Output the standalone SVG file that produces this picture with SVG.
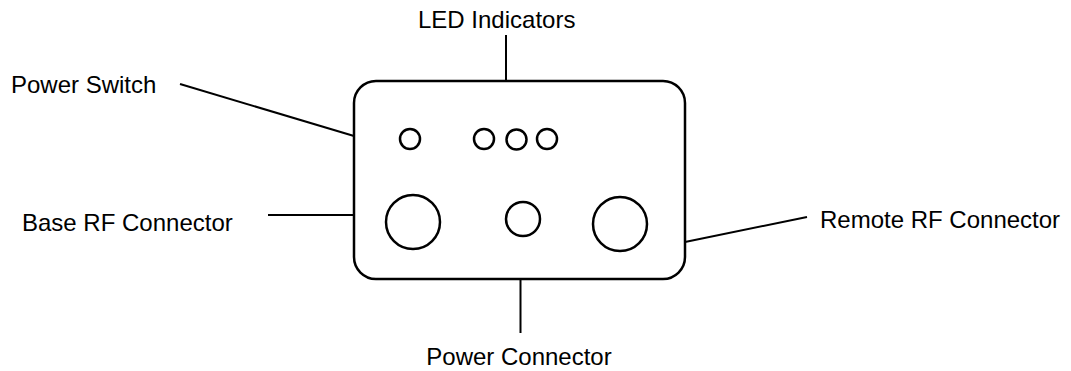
<svg xmlns="http://www.w3.org/2000/svg" width="1071" height="371" viewBox="0 0 1071 371">
<style>
.lbl{font-family:"Liberation Sans",Arial,sans-serif;font-size:24px;fill:#000}
.ln{stroke:#000;stroke-width:2;fill:none}
.sh{stroke:#000;stroke-width:2.5;fill:#fff}
</style>
<rect width="1071" height="371" fill="#fff"/>
<g id="device">
<rect class="sh" x="354" y="81" width="331" height="198" rx="22" ry="22"/>
<circle class="sh" cx="410" cy="139" r="10"/>
<circle class="sh" cx="484" cy="139" r="10"/>
<circle class="sh" cx="516.5" cy="139.5" r="10"/>
<circle class="sh" cx="547" cy="139" r="10"/>
<circle class="sh" cx="413" cy="222" r="27"/>
<circle class="sh" cx="523" cy="219" r="17"/>
<circle class="sh" cx="620" cy="224" r="27"/>
</g>
<g id="connectors">
<line class="ln" x1="506" y1="35" x2="506" y2="81"/>
<line class="ln" x1="180" y1="84" x2="354" y2="136"/>
<line class="ln" x1="268" y1="215" x2="354" y2="215"/>
<line class="ln" x1="685" y1="242" x2="807" y2="217"/>
<line class="ln" x1="520.5" y1="279" x2="520.5" y2="333"/>
</g>
<g id="label-led"><text class="lbl" x="418" y="28">LED Indicators</text></g>
<g id="label-power-switch"><text class="lbl" x="11" y="93">Power Switch</text></g>
<g id="label-base-rf"><text class="lbl" x="22" y="231">Base RF Connector</text></g>
<g id="label-remote-rf"><text class="lbl" x="820" y="228">Remote RF Connector</text></g>
<g id="label-power-connector"><text class="lbl" x="519" y="365" text-anchor="middle">Power Connector</text></g>
</svg>
